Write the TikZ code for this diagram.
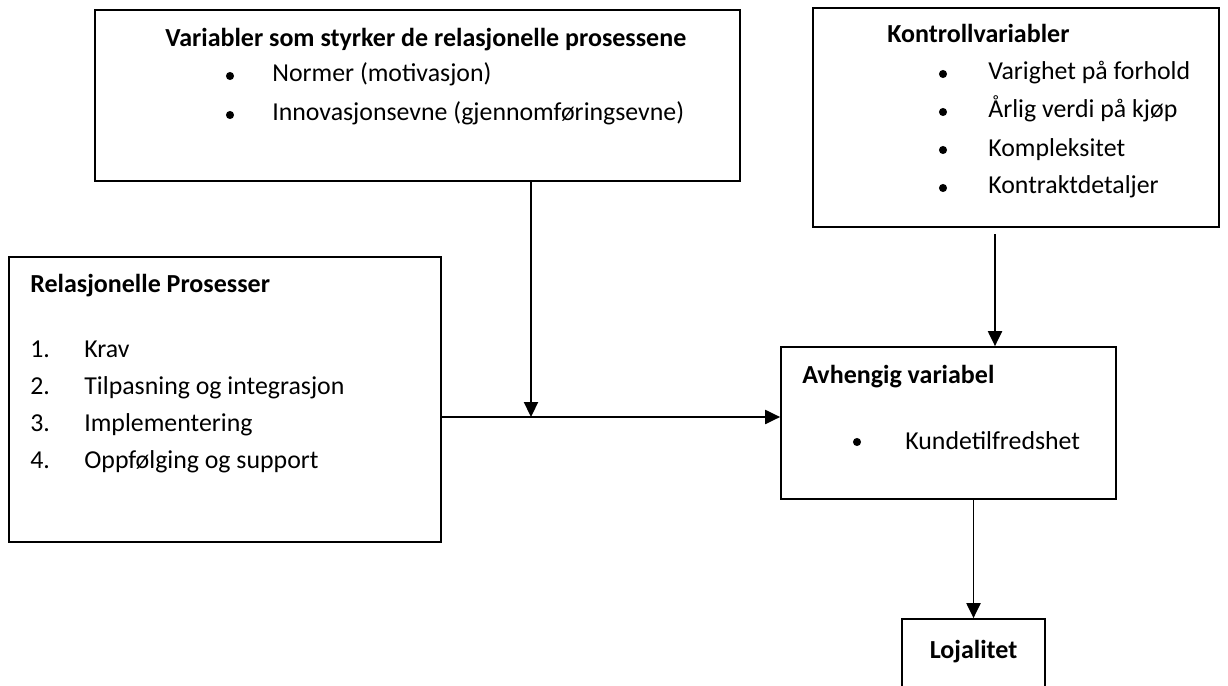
\documentclass[tikz,border=0pt]{standalone}
\usepackage{fontspec}
\setmainfont{Carlito}
\usetikzlibrary{positioning, arrows.meta, fit, calc}

\begin{document}
\begin{tikzpicture}[
      x=0.02cm, y=-0.02cm,
      box/.style={rectangle, draw, line width=1pt, inner sep=0pt},
      title/.style={anchor=base west, inner sep=0pt,
        font=\fontsize{14.8}{17}\selectfont\bfseries},
      item/.style={anchor=base west, inner sep=0pt,
        font=\fontsize{14.7}{17}\selectfont},
      dot/.style={circle, fill, inner sep=0pt, minimum size=4.6pt},
      arrow/.style={-{Triangle[length=8.5pt, width=8pt]}, line width=1pt}
    ]
      \clip (0,0) rectangle (1228,686);

      % Boxes
      \node[box, fit={(95,10) (740,181)}] (styrker) {};
      \node[box, fit={(813,8) (1219,227)}] (kontroll) {};
      \node[box, fit={(9,257) (441,542)}] (prosesser) {};
      \node[box, fit={(781,347) (1116,499)}] (avhengig) {};
      \node[box, fit={(902,619) (1045,720)}] (lojalitet) {};

      % Strengthening variables
      \node[title] (styrkertitle) at (165,47) {Variabler som styrker de relasjonelle prosessene};
      \foreach \txt [count=\i] in {Normer (motivasjon), Innovasjonsevne (gjennomføringsevne)} {
        \node[dot] (styrkerdot\i) at (230,{37+39*\i}) {};
        \node[item] (styrker\i) at (272,{43+39*\i}) {\txt};
      }

      % Control variables
      \node[title] (kontrolltitle) at (887,43) {Kontrollvariabler};
      \foreach \txt [count=\i] in {Varighet på forhold, Årlig verdi på kjøp, Kompleksitet, Kontraktdetaljer} {
        \node[dot] (kontrolldot\i) at (943,{36+38*\i}) {};
        \node[item] (kontroll\i) at (988,{42+38*\i}) {\txt};
      }

      % Relational processes
      \node[title] (prosessertitle) at (30,292) {Relasjonelle Prosesser};
      \foreach \txt [count=\i] in {Krav, Tilpasning og integrasjon, Implementering, Oppfølging og support} {
        \node[item] (prosessernr\i) at (30,{320+37*\i}) {\i.};
        \node[item] (prosesser\i) at (84,{320+37*\i}) {\txt};
      }

      % Dependent variable
      \node[title] (avhengigtitle) at (802,383) {Avhengig variabel};
      \node[dot] (avhengigdot) at (857,442) {};
      \node[item] (avhengig1) at (905,449) {Kundetilfredshet};

      % Loyalty
      \node[title, anchor=base] (lojalitettitle) at (lojalitet.north |- 0,658) {Lojalitet};

      % Arrows
      \coordinate (join) at (531,417);
      \coordinate (kv) at (995,227);
      \draw[arrow] (styrker.south -| join) -- (join);
      \draw[arrow] (prosesser.east |- join) -- (avhengig.west |- join);
      \draw[arrow, shorten <=3.5pt] (kontroll.south -| kv) -- (avhengig.north -| kv);
      \draw[arrow] (avhengig.south -| lojalitet.north) -- (lojalitet.north);
    \end{tikzpicture}
\end{document}
